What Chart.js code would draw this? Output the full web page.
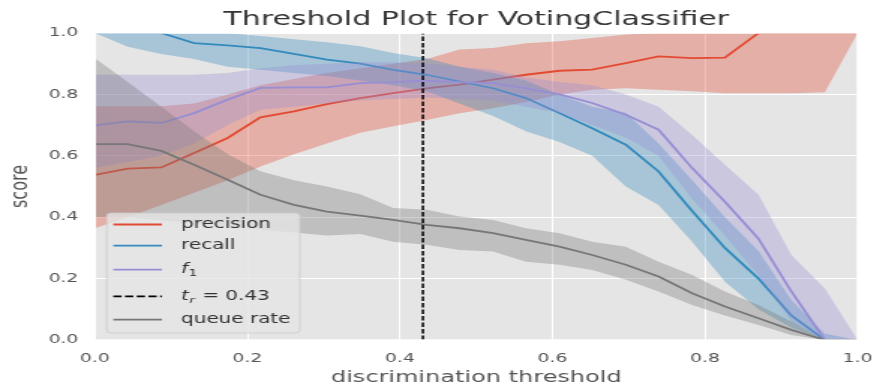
<!DOCTYPE html>
<html>
<head>
<meta charset="utf-8">
<script src="https://cdn.jsdelivr.net/npm/chart.js@4/dist/chart.umd.min.js"></script>
<style>
  html, body { margin: 0; padding: 0; background: #ffffff; }
  /* the figure is laid out narrow and stretched sideways */
  #wrap { position: absolute; left: 0; top: 0; width: 593px; height: 389px;
          transform: scaleX(1.4992); transform-origin: 0 0; }
</style>
</head>
<body>
<div id="wrap"><canvas id="c"></canvas></div>
<script>
// discrimination thresholds evaluated
const thresholds = [0.000, 0.043, 0.087, 0.130, 0.174, 0.217, 0.261, 0.304, 0.348, 0.391, 0.435, 0.478,
                    0.522, 0.565, 0.609, 0.652, 0.696, 0.739, 0.783, 0.826, 0.870, 0.913, 0.957, 1.000];

// median scores and their spread bands
const precision      = [0.538, 0.558, 0.562, 0.609, 0.658, 0.725, 0.745, 0.768, 0.788, 0.804, 0.820, 0.832,
                        0.848, 0.864, 0.877, 0.881, 0.902, 0.924, 0.918, 0.920, 1.000, 1.000, 1.000, 1.000];
const precisionLower = [0.364, 0.400, 0.440, 0.480, 0.520, 0.565, 0.605, 0.640, 0.675, 0.696, 0.717, 0.739,
                        0.755, 0.775, 0.800, 0.815, 0.820, 0.815, 0.810, 0.804, 0.804, 0.804, 0.807, 1.000];
const precisionUpper = [0.761, 0.761, 0.761, 0.770, 0.800, 0.830, 0.850, 0.870, 0.885, 0.900, 0.915, 0.946,
                        0.951, 0.967, 0.973, 0.984, 0.995, 1.000, 1.000, 1.000, 1.000, 1.000, 1.000, 1.000];

const recall      = [1.000, 1.000, 1.000, 0.967, 0.960, 0.951, 0.932, 0.913, 0.900, 0.880, 0.864, 0.842,
                     0.820, 0.788, 0.739, 0.690, 0.636, 0.549, 0.420, 0.300, 0.200, 0.080, 0.000, 0.000];
const recallLower = [1.000, 0.955, 0.932, 0.915, 0.890, 0.880, 0.870, 0.860, 0.845, 0.830, 0.810, 0.770,
                     0.730, 0.680, 0.645, 0.600, 0.500, 0.440, 0.320, 0.190, 0.100, 0.040, 0.000, 0.000];
const recallUpper = [1.000, 1.000, 1.000, 1.000, 1.000, 0.990, 0.980, 0.970, 0.957, 0.935, 0.918, 0.890,
                     0.870, 0.845, 0.800, 0.760, 0.740, 0.640, 0.520, 0.400, 0.290, 0.130, 0.020, 0.000];

const f1      = [0.699, 0.712, 0.707, 0.739, 0.783, 0.821, 0.823, 0.823, 0.837, 0.840, 0.845, 0.840,
                 0.837, 0.820, 0.800, 0.772, 0.734, 0.685, 0.560, 0.450, 0.330, 0.158, 0.000, 0.000];
const f1Lower = [0.560, 0.580, 0.600, 0.640, 0.700, 0.750, 0.760, 0.770, 0.780, 0.785, 0.790, 0.785,
                 0.780, 0.760, 0.740, 0.700, 0.660, 0.600, 0.460, 0.340, 0.210, 0.060, 0.000, 0.000];
const f1Upper = [0.864, 0.864, 0.864, 0.864, 0.870, 0.885, 0.895, 0.900, 0.905, 0.905, 0.900, 0.890,
                 0.880, 0.855, 0.840, 0.830, 0.800, 0.760, 0.668, 0.571, 0.473, 0.277, 0.168, 0.000];

const queueRate  = [0.638, 0.638, 0.616, 0.571, 0.522, 0.473, 0.440, 0.418, 0.405, 0.391, 0.375, 0.364,
                    0.348, 0.326, 0.304, 0.277, 0.245, 0.207, 0.152, 0.109, 0.071, 0.033, 0.000, 0.000];
const queueLower = [0.400, 0.400, 0.390, 0.380, 0.370, 0.360, 0.350, 0.340, 0.345, 0.320, 0.310, 0.293,
                    0.288, 0.255, 0.245, 0.228, 0.196, 0.158, 0.114, 0.080, 0.049, 0.016, 0.000, 0.000];
const queueUpper = [0.918, 0.840, 0.760, 0.680, 0.605, 0.550, 0.520, 0.500, 0.475, 0.430, 0.424, 0.402,
                    0.391, 0.364, 0.348, 0.320, 0.304, 0.255, 0.212, 0.158, 0.114, 0.060, 0.000, 0.000];

// chosen threshold
const threshold = 0.43;
const thresholdLabel = threshold.toFixed(2);

// axis ticks
const xTickValues = [0.0, 0.2, 0.4, 0.6, 0.8, 1.0];
const xTickLabels = ['0.0', '0.2', '0.4', '0.6', '0.8', '1.0'];
const yTickValues = [0.0, 0.2, 0.4, 0.6, 0.8, 1.0];
const yTickLabels = ['0.0', '0.2', '0.4', '0.6', '0.8', '1.0'];

const titleText = 'Threshold Plot for VotingClassifier';
const xTitle = 'discrimination threshold';
const yTitle = 'score';

const FONT = '"DejaVu Sans", "Liberation Sans", sans-serif';
const PANEL = '#E5E5E5';

const metrics = [
  { values: precision, lower: precisionLower, upper: precisionUpper, color: '#E24A33', fill: 'rgba(226,74,51,0.35)' },
  { values: recall,    lower: recallLower,    upper: recallUpper,    color: '#348ABD', fill: 'rgba(52,138,189,0.35)' },
  { values: f1,        lower: f1Lower,        upper: f1Upper,        color: '#988ED5', fill: 'rgba(152,142,213,0.35)' },
  { values: queueRate, lower: queueLower,     upper: queueUpper,     color: '#777777', fill: 'rgba(119,119,119,0.35)' }
];

const pts = arr => arr.map((y, i) => ({ x: thresholds[i], y }));

// each metric: invisible lower edge, shaded band up to the upper edge, then the median line.
// drawing order follows the metric order, each band above its own line.
const datasets = [];
metrics.forEach((m, k) => {
  const base = 100 - k * 10;
  const lowerIndex = datasets.length;
  datasets.push({ data: pts(m.lower), borderWidth: 0, pointRadius: 0, fill: false, order: base + 2, clip: 0 });
  datasets.push({ data: pts(m.upper), borderWidth: 0, pointRadius: 0, backgroundColor: m.fill,
                  fill: { target: lowerIndex }, order: base - 1, clip: 0 });
  datasets.push({ data: pts(m.values), borderColor: m.color, borderWidth: 1.8, pointRadius: 0,
                  fill: false, order: base, clip: 0 });
});
datasets.push({ data: [{ x: threshold, y: 0 }, { x: threshold, y: 1 }], borderColor: '#000000',
                borderWidth: 1.5, borderDash: [4.5, 2], pointRadius: 0, fill: false, order: 0, clip: 0 });

// panel background, white frame over the data edges, and title
const framePlugin = {
  id: 'frame',
  beforeDraw(chart) {
    const { ctx, chartArea: a, width, height } = chart;
    ctx.save();
    ctx.fillStyle = '#ffffff';
    ctx.fillRect(0, 0, width, height);
    ctx.fillStyle = PANEL;
    ctx.fillRect(a.left, a.top, a.right - a.left, a.bottom - a.top);
    ctx.restore();
  },
  afterDatasetsDraw(chart) {
    const { ctx, chartArea: a } = chart;
    ctx.save();
    ctx.strokeStyle = '#ffffff';
    ctx.lineWidth = 1.4;
    ctx.strokeRect(a.left, a.top, a.right - a.left, a.bottom - a.top);
    ctx.restore();
  },
  afterDraw(chart) {
    const { ctx, chartArea: a } = chart;
    ctx.save();
    ctx.fillStyle = '#333333';
    ctx.font = '20px ' + FONT;
    ctx.textAlign = 'center';
    ctx.textBaseline = 'alphabetic';
    ctx.fillText(titleText, (a.left + a.right) / 2, 25);
    ctx.restore();
  }
};

// boxed legend in the lower left of the panel
const legendRows = [
  { color: '#E24A33', dash: [],       y: 224.5, parts: [{ t: 'precision' }] },
  { color: '#348ABD', dash: [],       y: 245.7, parts: [{ t: 'recall' }] },
  { color: '#988ED5', dash: [],       y: 269.7, parts: [{ t: 'f', it: true }, { t: '1', sub: true }] },
  { color: '#000000', dash: [5.5, 2.3], y: 296.3, parts: [{ t: 't', it: true }, { t: 'r', it: true, sub: true },
                                                        { t: ' = ' + thresholdLabel }] },
  { color: '#777777', dash: [],       y: 319.7, parts: [{ t: 'queue rate' }] }
];

const legendPlugin = {
  id: 'boxLegend',
  afterDatasetsDraw(chart) {
    const ctx = chart.ctx;
    const x0 = 71.2, y0 = 213, w = 128.8, h = 120, r = 3;
    ctx.save();
    ctx.beginPath();
    ctx.moveTo(x0 + r, y0);
    ctx.lineTo(x0 + w - r, y0);
    ctx.quadraticCurveTo(x0 + w, y0, x0 + w, y0 + r);
    ctx.lineTo(x0 + w, y0 + h - r);
    ctx.quadraticCurveTo(x0 + w, y0 + h, x0 + w - r, y0 + h);
    ctx.lineTo(x0 + r, y0 + h);
    ctx.quadraticCurveTo(x0, y0 + h, x0, y0 + h - r);
    ctx.lineTo(x0, y0 + r);
    ctx.quadraticCurveTo(x0, y0, x0 + r, y0);
    ctx.closePath();
    ctx.fillStyle = 'rgba(229,229,229,0.8)';
    ctx.fill();
    ctx.strokeStyle = 'rgba(204,204,204,0.8)';
    ctx.lineWidth = 1;
    ctx.stroke();

    legendRows.forEach(row => {
      ctx.beginPath();
      ctx.setLineDash(row.dash);
      ctx.strokeStyle = row.color;
      ctx.lineWidth = 1.8;
      ctx.moveTo(75.6, row.y);
      ctx.lineTo(108, row.y);
      ctx.stroke();
      ctx.setLineDash([]);

      let x = 120.8;
      ctx.fillStyle = '#333333';
      ctx.textAlign = 'left';
      ctx.textBaseline = 'middle';
      row.parts.forEach(p => {
        const size = p.sub ? 9.3 : 13.3;
        ctx.font = (p.it ? 'italic ' : '') + size + 'px ' + FONT;
        ctx.fillText(p.t, x, row.y + (p.sub ? 3.8 : 0));
        x += ctx.measureText(p.t).width + (p.sub ? 0.6 : 0.3);
      });
    });
    ctx.restore();
  }
};

const tickFont = { family: FONT, size: 12.5 };
const titleFont = { family: FONT, size: 16 };

new Chart(document.getElementById('c'), {
  type: 'line',
  data: { datasets },
  plugins: [framePlugin, legendPlugin],
  options: {
    responsive: true,
    maintainAspectRatio: false,
    animation: false,
    events: [],
    devicePixelRatio: 1,
    layout: { padding: { top: 33, right: 11, left: 0, bottom: 0 } },
    elements: { line: { tension: 0 } },
    plugins: { legend: { display: false }, tooltip: { enabled: false }, title: { display: false } },
    scales: {
      x: {
        type: 'linear', min: 0, max: 1,
        afterBuildTicks: s => { s.ticks = xTickValues.map(v => ({ value: v })); },
        afterFit: s => { s.height = 49; },
        ticks: { color: '#555555', font: tickFont, padding: 11, maxRotation: 0,
                 callback: (v, i) => xTickLabels[i] },
        grid: { color: '#ffffff', lineWidth: 1, drawTicks: false },
        border: { display: false },
        title: { display: true, text: xTitle, color: '#555555', font: titleFont, padding: { top: 0, bottom: 1.4 } }
      },
      y: {
        type: 'linear', min: 0, max: 1,
        afterBuildTicks: s => { s.ticks = yTickValues.map(v => ({ value: v })); },
        afterFit: s => { s.width = 63.3; },
        ticks: { color: '#555555', font: tickFont, padding: 11,
                 callback: (v, i) => yTickLabels[i] },
        grid: { color: '#ffffff', lineWidth: 1, drawTicks: false },
        border: { display: false },
        title: { display: true, text: yTitle, color: '#555555', font: titleFont, padding: { top: 4.4, bottom: 0 } }
      }
    }
  }
});
</script>
</body>
</html>
